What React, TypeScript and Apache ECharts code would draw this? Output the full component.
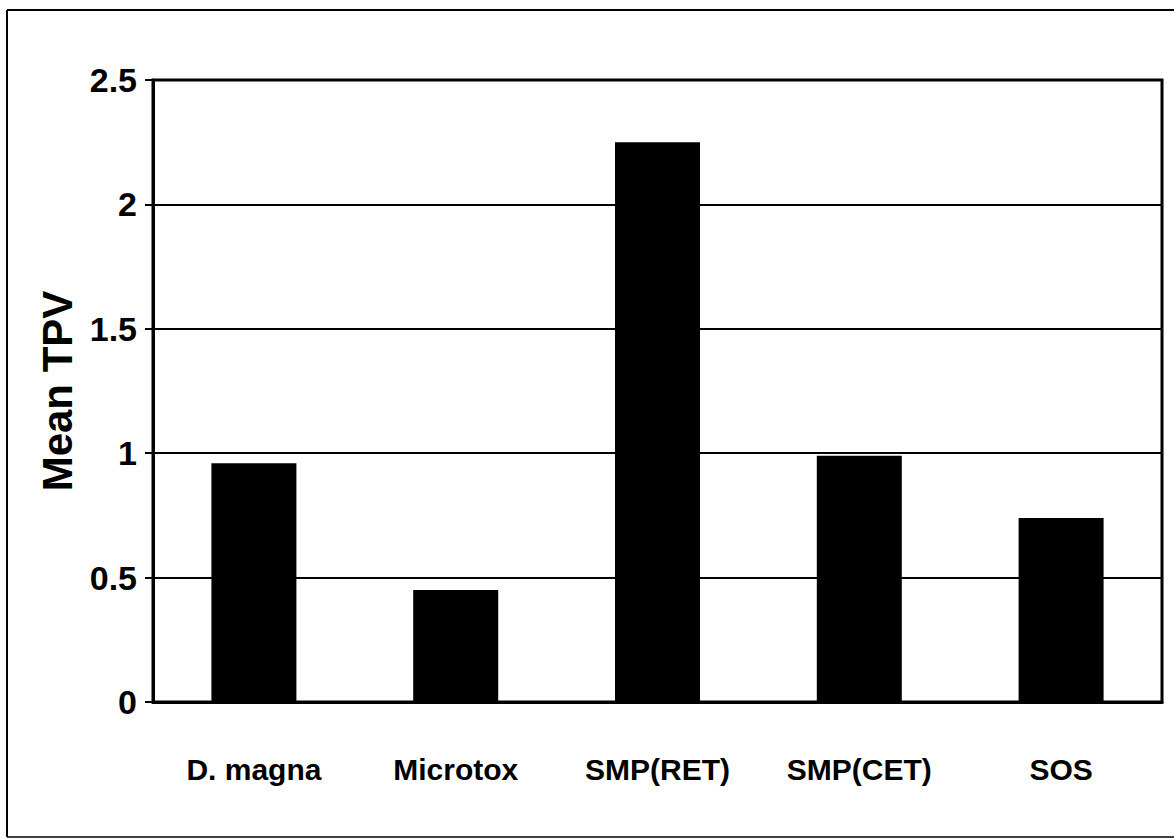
import React, { useEffect, useRef } from "react";
import * as echarts from "echarts";

// Mean TPV per test system
const categories = ["D. magna", "Microtox", "SMP(RET)", "SMP(CET)", "SOS"];
const meanTPV = [0.96, 0.45, 2.25, 0.99, 0.74];
const yTicks = ["0", "0.5", "1", "1.5", "2", "2.5"];

const SANS = '"Liberation Sans", Arial, sans-serif';

export default function App() {
  const ref = useRef<HTMLDivElement>(null);

  useEffect(() => {
    if (!ref.current) return;
    const chart = echarts.init(ref.current, undefined, { renderer: "svg" });
    chart.setOption({
      animation: false,
      backgroundColor: "#ffffff",
      grid: {
        left: 153,
        right: 12,
        top: 80,
        bottom: 137,
        show: true,
        borderColor: "#000",
        borderWidth: 3,
        backgroundColor: "transparent",
      },
      graphic: [
        {
          type: "line",
          shape: { x1: 7, y1: 10, x2: 1174, y2: 10 },
          style: { stroke: "#000", lineWidth: 2 },
        },
        {
          type: "line",
          shape: { x1: 7, y1: 10, x2: 7, y2: 837 },
          style: { stroke: "#000", lineWidth: 2 },
        },
        {
          type: "line",
          shape: { x1: 7, y1: 837, x2: 1174, y2: 837 },
          style: { stroke: "#000", lineWidth: 1.5 },
        },
      ],
      xAxis: {
        type: "category",
        data: categories,
        axisLine: { lineStyle: { color: "#000", width: 3 } },
        axisTick: { show: false },
        axisLabel: {
          color: "#000",
          fontFamily: SANS,
          fontWeight: "bold",
          fontSize: 30,
          margin: 52,
          interval: 0,
        },
      },
      yAxis: {
        type: "value",
        min: 0,
        max: 2.5,
        interval: 0.5,
        name: "Mean TPV",
        nameLocation: "middle",
        nameGap: 66,
        nameTextStyle: {
          color: "#000",
          fontFamily: SANS,
          fontWeight: "bold",
          fontSize: 42,
        },
        axisLine: { show: true, lineStyle: { color: "#000", width: 3 } },
        axisTick: { show: true, length: 8, lineStyle: { color: "#000", width: 2 } },
        splitLine: { lineStyle: { color: "#000", width: 2 } },
        axisLabel: {
          color: "#000",
          fontFamily: SANS,
          fontWeight: "bold",
          fontSize: 34,
          margin: 16,
          formatter: (v: number) => yTicks[Math.round(v / 0.5)] ?? String(v),
        },
      },
      series: [
        {
          type: "bar",
          data: meanTPV,
          barWidth: 85,
          itemStyle: { color: "#000" },
        },
      ],
    });
    return () => chart.dispose();
  }, []);

  return (
    <div
      ref={ref}
      style={{ position: "fixed", left: 0, top: 0, width: 1174, height: 839 }}
    />
  );
}
